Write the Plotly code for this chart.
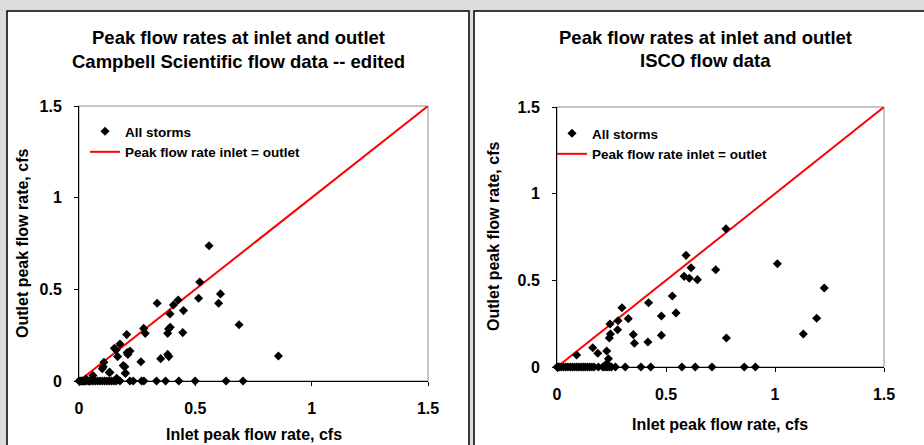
import plotly.graph_objects as go

W, H = 924, 445

# ---------------- data ----------------
# Left panel: Campbell Scientific flow data -- edited
cs_inlet = [0.559, 0.519, 0.608, 0.600, 0.514, 0.426, 0.406, 0.449, 0.391, 0.336,
            0.392, 0.385, 0.381, 0.446, 0.688, 0.857, 0.278, 0.285, 0.205, 0.176,
            0.152, 0.166, 0.219, 0.207, 0.210, 0.190, 0.199, 0.266, 0.351, 0.381,
            0.386, 0.107, 0.100, 0.130, 0.162, 0.104, 0.133, 0.197, 0.200, 0.160,
            0.030, 0.060,
            0.000, 0.005, 0.010, 0.015, 0.020, 0.025, 0.030, 0.040, 0.045, 0.050,
            0.060, 0.070, 0.080, 0.090, 0.100, 0.110, 0.120, 0.130, 0.140, 0.150,
            0.160, 0.176, 0.219, 0.233, 0.269, 0.279, 0.333, 0.372, 0.429, 0.499,
            0.632, 0.705]
cs_outlet = [0.738, 0.540, 0.475, 0.424, 0.451, 0.442, 0.415, 0.384, 0.366, 0.424,
             0.293, 0.284, 0.260, 0.264, 0.307, 0.136, 0.287, 0.260, 0.253, 0.202,
             0.178, 0.133, 0.164, 0.155, 0.145, 0.084, 0.042, 0.105, 0.122, 0.145,
             0.133, 0.102, 0.067, 0.047, 0.015, 0.078, 0.047, 0.078, 0.042, 0.170,
             0.010, 0.030,
             0, 0, 0, 0, 0, 0, 0, 0, 0, 0,
             0, 0, 0, 0, 0, 0, 0, 0, 0, 0,
             0, 0, 0, 0, 0, 0, 0, 0, 0, 0,
             0, 0]

# Right panel: ISCO flow data
isco_inlet = [0.775, 0.592, 0.615, 0.583, 0.607, 0.644, 0.728, 1.011, 1.226, 1.191,
              1.130, 0.777, 0.529, 0.546, 0.479, 0.479, 0.420, 0.417, 0.350, 0.355,
              0.327, 0.298, 0.280, 0.278, 0.243, 0.245, 0.240, 0.228, 0.236, 0.164,
              0.187, 0.090, 0.229,
              0.000, 0.005, 0.010, 0.020, 0.030, 0.040, 0.050, 0.060, 0.070, 0.080,
              0.090, 0.100, 0.110, 0.120, 0.130, 0.140, 0.150, 0.160, 0.170, 0.190,
              0.210, 0.220, 0.230, 0.240, 0.250, 0.268, 0.313, 0.385, 0.430, 0.573,
              0.634, 0.711, 0.859, 0.910]
isco_outlet = [0.798, 0.644, 0.573, 0.523, 0.512, 0.504, 0.561, 0.596, 0.456, 0.281,
               0.190, 0.167, 0.410, 0.312, 0.294, 0.183, 0.371, 0.144, 0.187, 0.137,
               0.279, 0.342, 0.267, 0.215, 0.248, 0.190, 0.167, 0.092, 0.048, 0.111,
               0.079, 0.069, 0.020,
               0, 0, 0, 0, 0, 0, 0, 0, 0, 0,
               0, 0, 0, 0, 0, 0, 0, 0, 0, 0,
               0, 0, 0, 0, 0, 0, 0, 0, 0, 0,
               0, 0, 0, 0]

equal_line = [0, 1.5]
tick_vals = [0, 0.5, 1, 1.5]
tick_text = ["0", "0.5", "1", "1.5"]

titles_left = ["Peak flow rates at inlet and outlet", "Campbell Scientific flow data -- edited"]
titles_right = ["Peak flow rates at inlet and outlet", "ISCO flow data"]
x_title = "Inlet peak flow rate, cfs"
y_title = "Outlet peak flow rate, cfs"
series_points = "All storms"
series_line = "Peak flow rate inlet = outlet"

FONT = "Liberation Sans, Arial, sans-serif"


def px_x(p):
    return p / W


def px_y(p):
    return 1 - p / H


fig = go.Figure()

panels = [
    ("x", "y", cs_inlet, cs_outlet, "legend"),
    ("x2", "y2", isco_inlet, isco_outlet, "legend2"),
]
for xa, ya, inl, outl, lg in panels:
    fig.add_trace(go.Scatter(
        x=equal_line, y=equal_line, mode="lines", name=series_line,
        line=dict(color="#ff0000", width=2), xaxis=xa, yaxis=ya,
        legend=lg, cliponaxis=False, hoverinfo="skip"))
    fig.add_trace(go.Scatter(
        x=inl, y=outl, mode="markers", name=series_points,
        marker=dict(symbol="diamond", size=7, color="black", line=dict(width=0)),
        xaxis=xa, yaxis=ya, legend=lg, cliponaxis=False))

axis_common = dict(
    range=[0, 1.5], tickvals=tick_vals, ticktext=tick_text, showgrid=False,
    zeroline=False, showline=True, linecolor="black", linewidth=1,
    ticks="outside", ticklen=4, tickcolor="black", tickwidth=1,
    tickfont=dict(family=FONT, size=16, color="black", weight="bold"),
    ticklabelstandoff=9, fixedrange=True, automargin=False)

legend_font = dict(family=FONT, size=13.5, color="black", weight="bold")


def legend_at(xp, yp):
    return dict(x=px_x(xp), y=px_y(yp), xanchor="left", yanchor="middle",
                bgcolor="rgba(0,0,0,0)", font=legend_font, itemwidth=30,
                borderwidth=0, traceorder="reversed", tracegroupgap=0)


fig.update_layout(
    width=W, height=H, autosize=False,
    margin=dict(l=0, r=0, t=0, b=0, pad=0, autoexpand=False),
    paper_bgcolor="#dcdcdc", plot_bgcolor="rgba(0,0,0,0)",
    showlegend=True,
    xaxis=dict(domain=[px_x(79), px_x(428)], anchor="y", **axis_common),
    yaxis=dict(domain=[px_y(381), px_y(106)], anchor="x", **axis_common),
    xaxis2=dict(domain=[px_x(557), px_x(884)], anchor="y2", **axis_common),
    yaxis2=dict(domain=[px_y(367), px_y(107)], anchor="x2", **axis_common),
    legend=legend_at(85, 142),
    legend2=legend_at(552, 144),
)

shapes = [
    # white chart panels
    dict(type="rect", xref="paper", yref="paper", x0=px_x(7), x1=px_x(469),
         y0=px_y(460), y1=px_y(11), fillcolor="white",
         line=dict(color="black", width=1.5), layer="below"),
    dict(type="rect", xref="paper", yref="paper", x0=px_x(474), x1=px_x(940),
         y0=px_y(460), y1=px_y(11), fillcolor="white",
         line=dict(color="black", width=1.5), layer="below"),
    # plot-area frames
    dict(type="rect", xref="x domain", yref="y domain", x0=0, x1=1, y0=0, y1=1,
         line=dict(color="#8c8c8c", width=1), layer="below"),
    dict(type="rect", xref="x2 domain", yref="y2 domain", x0=0, x1=1, y0=0, y1=1,
         line=dict(color="#8c8c8c", width=1), layer="below"),
]
fig.update_layout(shapes=shapes)

title_font = dict(family=FONT, size=18.5, color="black", weight="bold")
label_font = dict(family=FONT, size=16, color="black", weight="bold")
ann = []
for txt, cy in zip(titles_left, [37, 62]):
    ann.append(dict(text=txt, x=px_x(238), y=px_y(cy), xref="paper", yref="paper",
                    showarrow=False, font=title_font, xanchor="center", yanchor="middle"))
for txt, cy in zip(titles_right, [37, 61]):
    ann.append(dict(text=txt, x=px_x(705), y=px_y(cy), xref="paper", yref="paper",
                    showarrow=False, font=title_font, xanchor="center", yanchor="middle"))
ann.append(dict(text=x_title, x=px_x(254), y=px_y(434), xref="paper", yref="paper",
                showarrow=False, font=label_font, xanchor="center", yanchor="middle"))
ann.append(dict(text=x_title, x=px_x(720), y=px_y(424), xref="paper", yref="paper",
                showarrow=False, font=label_font, xanchor="center", yanchor="middle"))
ann.append(dict(text=y_title, x=px_x(22), y=px_y(244), xref="paper", yref="paper",
                showarrow=False, font=label_font, textangle=-90,
                xanchor="center", yanchor="middle"))
ann.append(dict(text=y_title, x=px_x(493), y=px_y(237), xref="paper", yref="paper",
                showarrow=False, font=label_font, textangle=-90,
                xanchor="center", yanchor="middle"))
fig.update_layout(annotations=ann)

fig.write_html(
    "out.html",
    config={"displayModeBar": False},
    post_script="document.body.style.margin='0';document.body.style.overflow='hidden';",
)
